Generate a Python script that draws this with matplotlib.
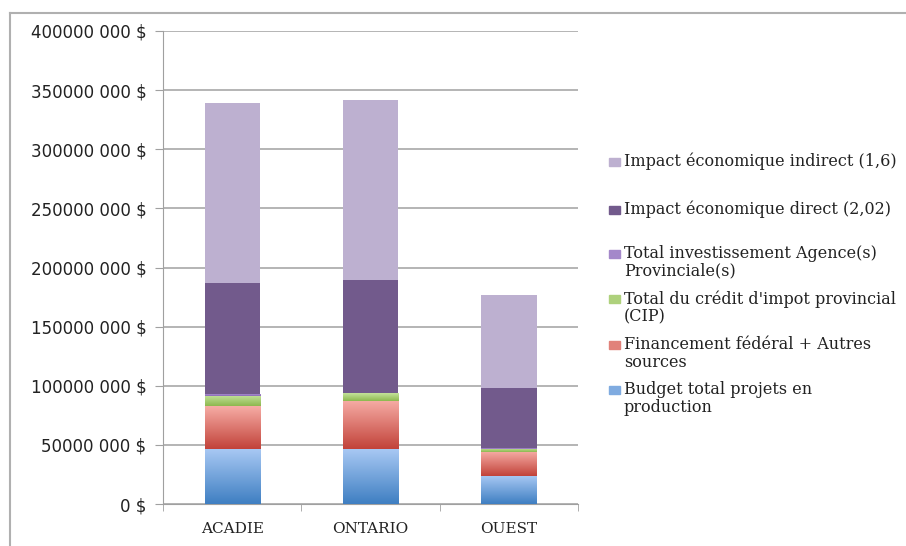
import numpy as np
import matplotlib
matplotlib.use("Agg")
import matplotlib.pyplot as plt
from matplotlib.colors import LinearSegmentedColormap
from matplotlib.lines import Line2D
from matplotlib.patches import Rectangle

# data (millions $)
regions = ["ACADIE", "ONTARIO", "OUEST"]
budget = [46.6, 46.8, 23.9]
federal = [35.9, 40.6, 20.3]
cip = [8.5, 6.2, 2.6]
agency = [2.2, 0.6, 0.5]
direct = [93.7, 95.4, 50.7]
indirect = [152.0, 152.0, 78.4]
tick_millions = [0, 50, 100, 150, 200, 250, 300, 350, 400]

series = [
    ("Budget total projets en\nproduction", budget, ("#a9c9f4", "#3f7fc2")),
    ("Financement fédéral + Autres\nsources", federal, ("#f6aca5", "#c2433a")),
    ("Total du crédit d'impot provincial\n(CIP)", cip, ("#c4e29a", "#8db84e")),
    ("Total investissement Agence(s)\nProvinciale(s)", agency, ("#b49ad6", "#8c6cb8")),
    ("Impact économique direct (2,02)", direct, ("#725a8c", "#725a8c")),
    ("Impact économique indirect (1,6)", indirect, ("#bdb0d0", "#bdb0d0")),
]

W, H = 906, 546
fig = plt.figure(figsize=(W / 100, H / 100), dpi=100)
ax = fig.add_axes([163 / W, (H - 504) / H, (578 - 163) / W, (504 - 31) / H])

x = np.arange(len(regions))
bottom = np.zeros(len(regions))
grad = np.linspace(0, 1, 100).reshape(-1, 1)
for label, vals, (top_c, bot_c) in series:
    vals = np.array(vals) * 1e6
    bars = ax.bar(x, vals, 0.4, bottom=bottom, color=top_c, edgecolor="none", zorder=3)
    if top_c != bot_c:
        cmap = LinearSegmentedColormap.from_list(label, [bot_c, top_c])
        for b in bars:
            x0, y0 = b.get_x(), b.get_y()
            im = ax.imshow(grad, cmap=cmap, origin="lower", aspect="auto",
                           extent=(x0, x0 + b.get_width(), y0, y0 + b.get_height()),
                           zorder=3.5)
            im.set_clip_path(b)
    bottom += vals

ax.set_xlim(-0.5, 2.5)
ax.set_ylim(0, 400e6)
ax.set_yticks(np.array(tick_millions) * 1e6)
ax.set_yticklabels(["0 $" if v == 0 else f"{v * 1000} 000 $" for v in tick_millions],
                   fontsize=12, color="#222222", family="DejaVu Sans")
ax.set_xticks(x)
ax.set_xticklabels(regions, family="DejaVu Serif", fontsize=11, color="#222222")
ax.set_xticks([-0.5, 0.5, 1.5, 2.5], minor=True)
ax.tick_params(axis="x", which="major", length=0, pad=13)
ax.tick_params(axis="x", which="minor", length=5, color="#a0a0a0")
ax.tick_params(axis="y", length=6, color="#a0a0a0", pad=6)
ax.yaxis.grid(True, color="#b4b4b4", linewidth=1.4, zorder=0)
ax.set_axisbelow(True)
for s in ["top", "right"]:
    ax.spines[s].set_visible(False)
ax.spines["left"].set_color("#a0a0a0")
ax.spines["bottom"].set_color("#a0a0a0")

# legend drawn by hand
legend_y = [162, 210, 254, 299, 345, 390]
for (label, vals, (top_c, bot_c)), ly in zip(series[::-1], legend_y):
    sq = top_c if top_c == bot_c else LinearSegmentedColormap.from_list("m", [bot_c, top_c])(0.6)
    fig.patches.append(Rectangle((609 / W, 1 - (ly + 4) / H), 11 / W, 8 / H,
                                 transform=fig.transFigure, color=sq))
    fig.text(624 / W, 1 - (ly - 9) / H, label, family="DejaVu Serif", fontsize=11.5,
             va="top", ha="left", color="#222222", linespacing=1.05)

# outer frame
fig.add_artist(Line2D([10 / W, 10 / W], [0, 1 - 13 / H], color="#b0b0b0", lw=1.5))
fig.add_artist(Line2D([10 / W, 1], [1 - 13 / H, 1 - 13 / H], color="#b0b0b0", lw=1.5))

fig.savefig("out.png", dpi=100)
